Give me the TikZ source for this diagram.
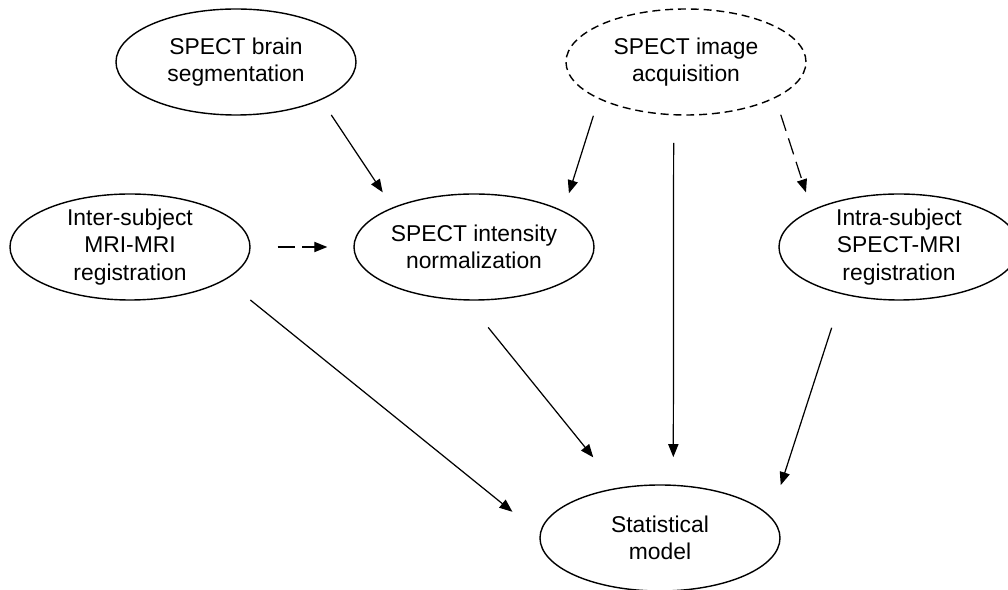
\documentclass[tikz,border=0pt]{standalone}
\usepackage{fontspec}
\setmainfont{Liberation Sans}
\usetikzlibrary{arrows.meta,shapes.geometric}
\tikzset{
    every picture/.style={line join=round},
    stagenode/.style={draw=black,ellipse,line width=0.8pt,
      minimum width=48mm,minimum height=21.2mm,inner xsep=0pt,inner ysep=-1.5mm,
      align=center,font=\fontsize{13pt}{15.6pt}\selectfont},
    optional/.style={dash pattern=on 4.5pt off 2.8pt},
    flowarrow/.style={-{Triangle[length=7.4pt,width=5.8pt]},draw=black,
      line width=0.7pt},
    optarrow/.style={flowarrow,dash pattern=on 9.6pt off 4.5pt},
    keepoff/.style 2 args={shorten <=#1,shorten >=#2}
}
\begin{document}
\begin{tikzpicture}[x=0.2mm,y=-0.2mm]
  \useasboundingbox (0,0) rectangle (1008,590);
  \node[stagenode] (seg) at (236,62) {SPECT brain\\segmentation};
  \node[stagenode,optional] (acq) at (686,62) {SPECT image\\acquisition};
  \node[stagenode] (inter) at (130,247) {Inter-subject\\MRI-MRI\\registration};
  \node[stagenode] (norm) at (474,247) {SPECT intensity\\normalization};
  \node[stagenode] (intra) at (899,247) {Intra-subject\\SPECT-MRI\\registration};
  \node[stagenode] (stat) at (660,538) {Statistical\\model};
  % arrows stop short of the ellipses
  \draw[flowarrow,keepoff={3.6mm}{3.6mm}] (seg.-24.6) -- (norm.154.5);
  \draw[flowarrow,keepoff={3.5mm}{3.7mm}] (acq.-157.4) -- (norm.22.7);
  \draw[flowarrow,keepoff={5.5mm}{5.5mm}] (acq.-103.9) -- (stat.76.1);
  \draw[optarrow,keepoff={3.5mm}{3.7mm}] (acq.-22.7) -- (intra.157.2);
  \draw[optarrow,keepoff={5.4mm}{5.2mm}] (inter.east) -- (norm.west);
  \draw[flowarrow,keepoff={6.4mm}{7mm}] (inter.-19.3) -- (stat.178);
  \draw[flowarrow,keepoff={6.9mm}{7.8mm}] (norm.-98.3) -- (stat.130.7);
  \draw[flowarrow,keepoff={7mm}{6.6mm}] (intra.-140.1) -- (stat.11.1);
\end{tikzpicture}
\end{document}
